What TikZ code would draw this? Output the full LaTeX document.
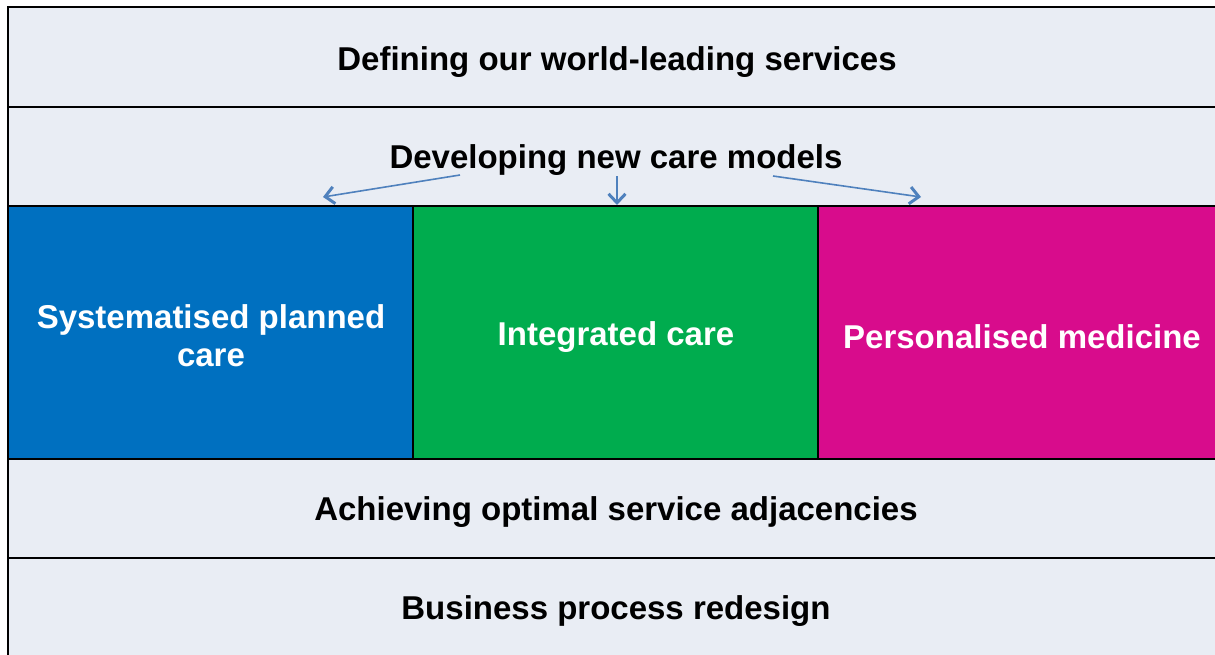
\documentclass[tikz,border=0pt]{standalone}
\usepackage{fontspec}
\setmainfont{Liberation Sans}
\usetikzlibrary{arrows.meta}
\definecolor{bandbg}{HTML}{E9EDF4}
\definecolor{cblue}{HTML}{0070C0}
\definecolor{cgreen}{HTML}{00AC4E}
\definecolor{cmag}{HTML}{D80C8C}
\definecolor{arrowc}{HTML}{4F81BD}
\begin{document}
\begin{tikzpicture}[x=1pt,y=-1pt,
  band/.style={draw=black,line width=1.5pt,fill=bandbg},
  colbox/.style={draw=black,line width=1.5pt},
  ttl/.style={font=\fontsize{33}{38}\selectfont\bfseries,text=black,align=center},
  wtl/.style={font=\fontsize{33}{38}\selectfont\bfseries,text=white,align=center},
  arr/.style={draw=arrowc,line width=1.6pt,-{Straight Barb[length=9pt,width=17pt,line width=3pt]}}]
\useasboundingbox (0,0) rectangle (1215,654);
\fill[white] (0,0) rectangle (1215,654);
% bands
\draw[band] (8,7) rectangle (1230,107);
\draw[band] (8,107) rectangle (1230,206);
\draw[band] (8,459) rectangle (1230,558);
\draw[band] (8,558) rectangle (1230,670);
% coloured boxes
\draw[colbox,fill=cblue] (8,206) rectangle (413,459);
\draw[colbox,fill=cgreen] (413,206) rectangle (818,459);
\draw[colbox,fill=cmag] (818,206) rectangle (1230,459);
% texts
\node[ttl] (def) at (617,62) {Defining our world-leading services};
\node[ttl] (dev) at (616,160) {Developing new care models};
\node[wtl] (sys) at (211,336) {Systematised planned\\care};
\node[wtl] (int) at (616,337) {Integrated care};
\node[wtl] (per) at (1022,337) {Personalised medicine};
\node[ttl] (ach) at (616,512) {Achieving optimal service adjacencies};
\node[ttl] (bus) at (616,611) {Business process redesign};
% arrows
\coordinate (s1) at (460,175);
\coordinate (e1) at (323,197);
\coordinate (s2) at (617,176);
\coordinate (e2) at (617,205);
\coordinate (s3) at (773,176);
\coordinate (e3) at (921,197);
\draw[arr] (s1) -- (e1);
\draw[arr] (s2) -- (e2);
\draw[arr] (s3) -- (e3);
\end{tikzpicture}
\end{document}
